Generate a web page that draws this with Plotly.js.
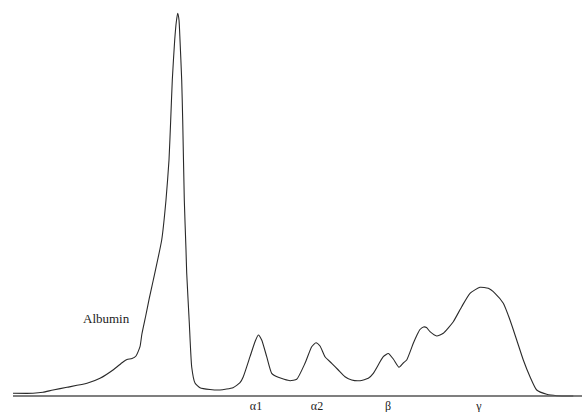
<!DOCTYPE html>
<html>
<head>
<meta charset="utf-8">
<script src="https://cdn.plot.ly/plotly-3.0.1.min.js"></script>
<style>html,body{margin:0;padding:0;background:#fff;}#chart{width:582px;height:412px;}</style>
</head>
<body>
<div id="chart"></div>
<script>
// Serum protein electrophoresis trace (mobility vs. absorbance, arbitrary units)
const mobility = [13,33,43,53,67,87,100,113,123,127,132,136,140,141.9,145.7,149.1,153.3,161.7,166,169,170.7,172.3,174.7,176.3,177.7,179,180,181.7,182.7,184.3,186,186.7,189.3,191.7,195,200,210,220,233,240,243.3,250,255,258.3,261.7,266.7,271.7,278.3,290,296.7,305,311.7,316,320,325,331.7,338.3,345,351.7,360,368.3,373.3,383.3,388.3,393.3,399,403.3,406.7,413.3,417,420,423.5,426.5,430,436.7,443.3,453.3,461.7,470,480,488.3,495,503.3,510,516.7,523.3,530,536.7,546.7,556.7,573.3];
const absorbance = [2.7,2.7,3.7,6,8.7,12.7,17.7,26,34,36.5,37.5,40,49.3,62,80,96.9,116,156,196,236,276,316,356,374,382.7,376,356,316,276,196,146,123,73,29,13,8.3,6.5,6,8.3,13.3,19.3,39.3,54.3,61,56,39.3,22.7,18.7,15.3,16.7,32.7,49.3,53.3,50,39.3,32.7,26,19.3,16,15.3,17.7,22.7,39.3,42.5,37,28.7,33,36,52.7,61,66.5,69,68.5,64.3,60,62.7,74.3,89.3,102.7,108.7,107.7,102.7,92.7,76,56,36,19.3,6,1.7,0.3,0];
const fractionPos = [256,317,388,479];
const fractionLabels = ['α1','α2','β','γ'];
const peakLabel = 'Albumin';

const serif = '"Liberation Serif", "Times New Roman", Times, serif';
const trace = {
  x: mobility, y: absorbance, type: 'scatter', mode: 'lines',
  line: {color: '#2a2a2a', width: 1.1, shape: 'spline', smoothing: 0.5},
  hoverinfo: 'skip'
};
const layout = {
  width: 582, height: 412,
  margin: {l: 0, r: 0, t: 0, b: 15},
  paper_bgcolor: '#fff', plot_bgcolor: '#fff',
  showlegend: false,
  xaxis: {range: [0, 582], showgrid: false, zeroline: false, showline: false,
          tickvals: fractionPos, ticktext: fractionLabels, ticks: '',
          tickfont: {family: serif, size: 12, color: '#222'}},
  yaxis: {range: [-1, 396], visible: false, showgrid: false, zeroline: false},
  shapes: [{type: 'line', xref: 'x', yref: 'y', x0: 13, x1: 582, y0: 0, y1: 0,
            line: {color: '#555', width: 1.3}}],
  annotations: [{x: 106, y: 78, xref: 'x', yref: 'y', text: peakLabel, showarrow: false,
                 font: {family: serif, size: 13, color: '#222'}}]
};
Plotly.newPlot('chart', [trace], layout, {staticPlot: true, displayModeBar: false});
</script>
</body>
</html>
